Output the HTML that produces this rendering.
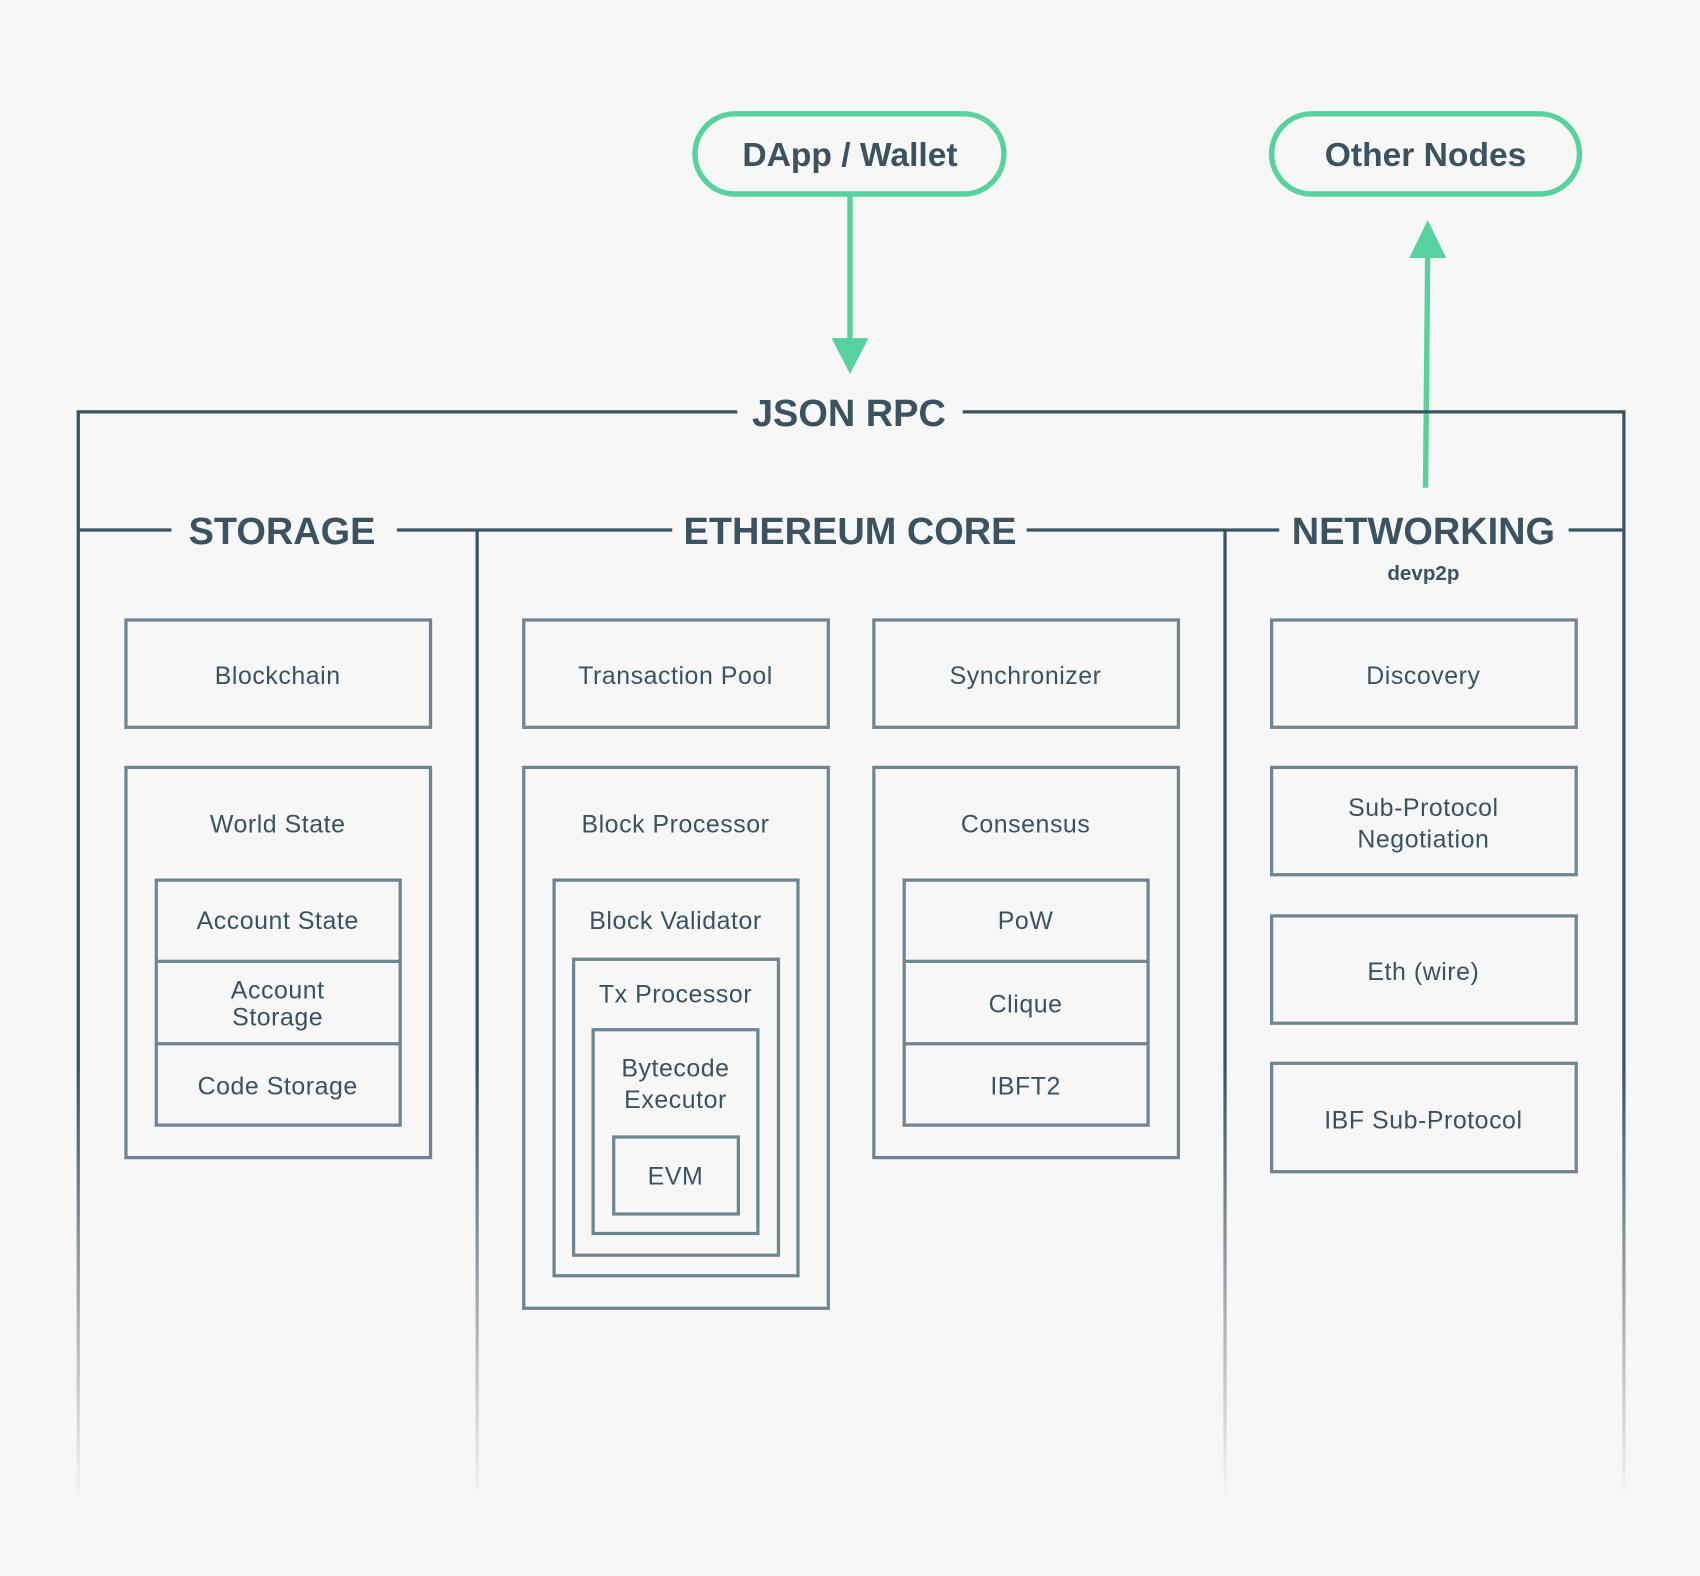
<!DOCTYPE html>
<html><head><meta charset="utf-8"><style>
html,body{margin:0;padding:0;background:#f7f7f7;}
svg{display:block;}
text{font-family:"Liberation Sans",sans-serif;fill:#3b5261;text-anchor:middle;}
.h{font-size:35px;font-weight:bold;}
.b{font-size:23px;letter-spacing:0.5px;}
.box{fill:none;stroke:#6f8591;stroke-width:3;}
</style></head><body>
<svg width="1700" height="1576" viewBox="0 0 1568 1454" xmlns="http://www.w3.org/2000/svg">
<defs>
<linearGradient id="f" gradientUnits="userSpaceOnUse" x1="0" y1="380" x2="0" y2="1385">
<stop offset="0.6" stop-color="#3b5261" stop-opacity="1"/>
<stop offset="1" stop-color="#3b5261" stop-opacity="0"/>
</linearGradient>
</defs>
<rect width="1568" height="1454" fill="#f7f7f7"/>
<!-- pills -->
<rect x="641" y="105" width="285" height="74" rx="37" fill="#f7f7f7" stroke="#57d19d" stroke-width="5"/>
<text x="784" y="153" class="h" style="font-size:31px">DApp / Wallet</text>
<rect x="1173" y="105" width="284" height="74" rx="37" fill="#f7f7f7" stroke="#57d19d" stroke-width="5"/>
<text x="1315" y="153" class="h" style="font-size:31px">Other Nodes</text>
<!-- arrows -->
<line x1="784" y1="180" x2="784" y2="318" stroke="#57d19d" stroke-width="5"/>
<polygon points="767,312 801,312 784,345" fill="#57d19d"/>
<line x1="1315" y1="450" x2="1317" y2="230" stroke="#57d19d" stroke-width="5"/>
<polygon points="1300,238 1334,238 1317,203" fill="#57d19d"/>
<!-- frame lines -->
<g stroke="#3b5261" stroke-width="3" fill="none">
<line x1="70.5" y1="380" x2="680" y2="380"/>
<line x1="888" y1="380" x2="1499.5" y2="380"/>
<line x1="72" y1="489" x2="158" y2="489"/>
<line x1="366" y1="489" x2="620" y2="489"/>
<line x1="947" y1="489" x2="1180" y2="489"/>
<line x1="1447" y1="489" x2="1498" y2="489"/>
</g>
<g stroke="url(#f)" stroke-width="3">
<line x1="72" y1="379" x2="72" y2="1385"/>
<line x1="1498" y1="379" x2="1498" y2="1385"/>
<line x1="440" y1="489" x2="440" y2="1385"/>
<line x1="1130" y1="489" x2="1130" y2="1385"/>
</g>
<text x="783" y="393" class="h">JSON RPC</text>
<text x="260" y="502" class="h">STORAGE</text>
<text x="784" y="502" class="h">ETHEREUM CORE</text>
<text x="1313" y="502" class="h">NETWORKING</text>
<text x="1313" y="535" style="font-size:19px;font-weight:bold">devp2p</text>
<!-- storage -->
<rect class="box" x="116" y="572" width="281" height="99"/>
<text class="b" x="256" y="631">Blockchain</text>
<rect class="box" x="116" y="708" width="281" height="360"/>
<text class="b" x="256" y="768">World State</text>
<rect class="box" x="144" y="812" width="225" height="226"/>
<line x1="144" y1="887" x2="369" y2="887" stroke="#6f8591" stroke-width="3"/>
<line x1="144" y1="963" x2="369" y2="963" stroke="#6f8591" stroke-width="3"/>
<text class="b" x="256" y="857">Account State</text>
<text class="b" x="256" y="921">Account</text>
<text class="b" x="256" y="946">Storage</text>
<text class="b" x="256" y="1010">Code Storage</text>
<!-- core -->
<rect class="box" x="483" y="572" width="281" height="99"/>
<text class="b" x="623" y="631">Transaction Pool</text>
<rect class="box" x="806" y="572" width="281" height="99"/>
<text class="b" x="946" y="631">Synchronizer</text>
<rect class="box" x="483" y="708" width="281" height="499"/>
<text class="b" x="623" y="768">Block Processor</text>
<rect class="box" x="511" y="812" width="225" height="365"/>
<text class="b" x="623" y="857">Block Validator</text>
<rect class="box" x="529" y="885" width="189" height="273"/>
<text class="b" x="623" y="925">Tx Processor</text>
<rect class="box" x="547" y="950" width="152" height="188"/>
<text class="b" x="623" y="993">Bytecode</text>
<text class="b" x="623" y="1022">Executor</text>
<rect class="box" x="566" y="1049" width="115" height="71"/>
<text class="b" x="623" y="1093">EVM</text>
<rect class="box" x="806" y="708" width="281" height="360"/>
<text class="b" x="946" y="768">Consensus</text>
<rect class="box" x="834" y="812" width="225" height="226"/>
<line x1="834" y1="887" x2="1059" y2="887" stroke="#6f8591" stroke-width="3"/>
<line x1="834" y1="963" x2="1059" y2="963" stroke="#6f8591" stroke-width="3"/>
<text class="b" x="946" y="857">PoW</text>
<text class="b" x="946" y="934">Clique</text>
<text class="b" x="946" y="1010">IBFT2</text>
<!-- networking -->
<rect class="box" x="1173" y="572" width="281" height="99"/>
<text class="b" x="1313" y="631">Discovery</text>
<rect class="box" x="1173" y="708" width="281" height="99"/>
<text class="b" x="1313" y="753">Sub-Protocol</text>
<text class="b" x="1313" y="782">Negotiation</text>
<rect class="box" x="1173" y="845" width="281" height="99"/>
<text class="b" x="1313" y="904">Eth (wire)</text>
<rect class="box" x="1173" y="981" width="281" height="100"/>
<text class="b" x="1313" y="1041">IBF Sub-Protocol</text>
</svg>
</body></html>
